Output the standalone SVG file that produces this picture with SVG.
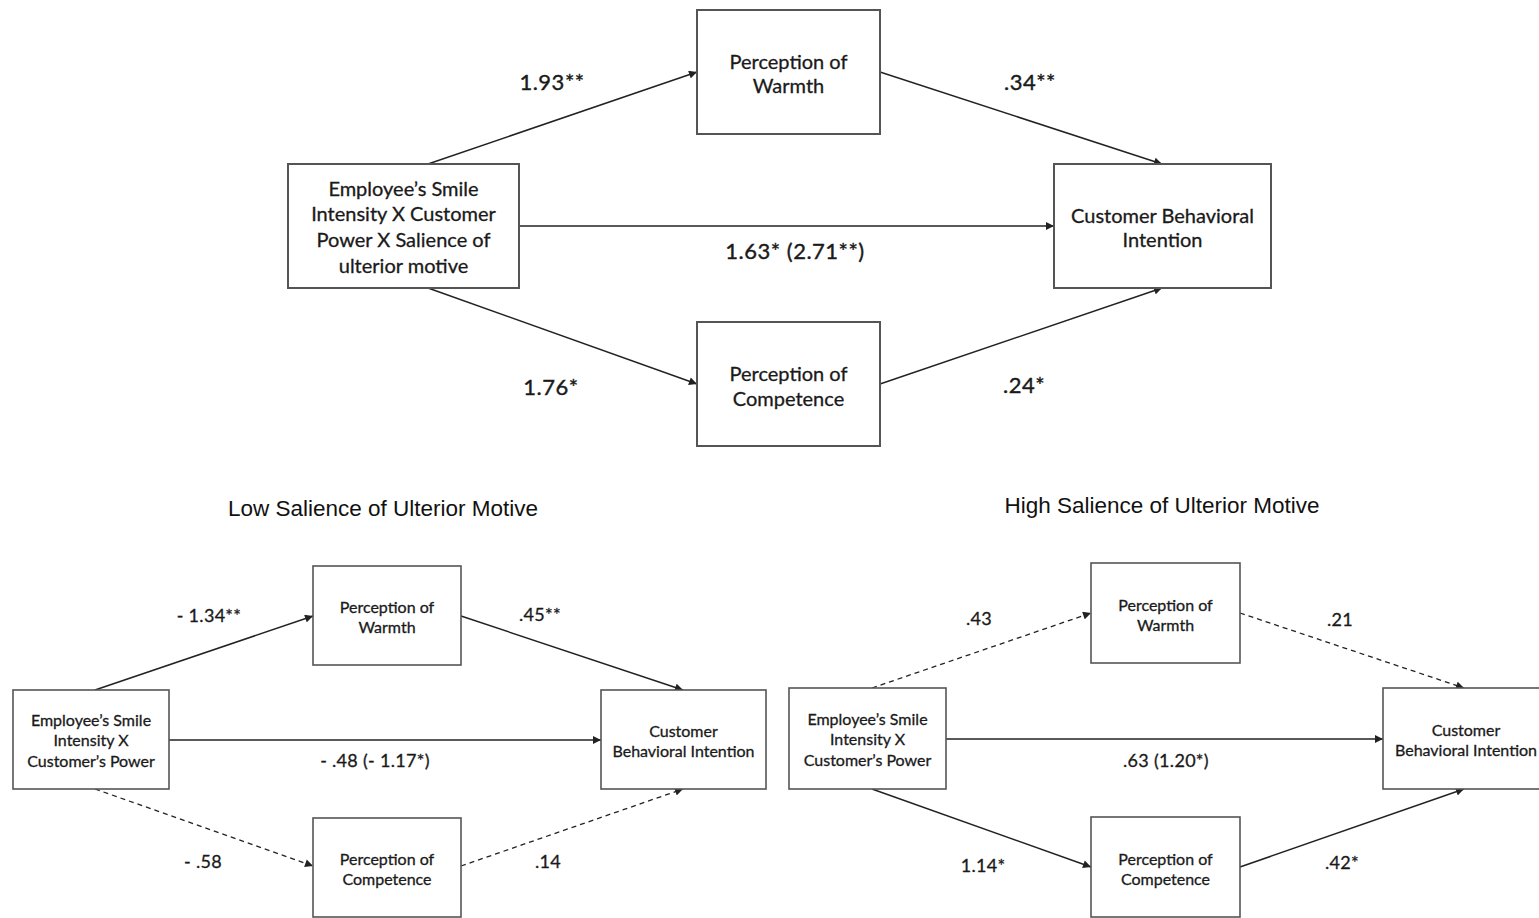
<svg xmlns="http://www.w3.org/2000/svg" width="1539" height="918" viewBox="0 0 1539 918">
<defs>
<marker id="ah" viewBox="0 0 10 10" refX="10" refY="5" markerWidth="9" markerHeight="8" markerUnits="userSpaceOnUse" orient="auto">
<path d="M0,0 L10,5 L0,10 z" fill="#222"/>
</marker>
<style>
.box{fill:#fff;stroke:#555;stroke-width:2}
.sbox{fill:#fff;stroke:#555;stroke-width:1.6}
.t{font-family:Lato,"Open Sans",sans-serif;fill:#1a1a1a;stroke:#1a1a1a;stroke-width:0.3;text-anchor:middle}
.big{font-size:20px}
.sm{font-size:16px}
.lbl{font-family:Lato,"Open Sans",sans-serif;fill:#1a1a1a;stroke:#1a1a1a;stroke-width:0.4;text-anchor:middle;font-size:22px;letter-spacing:0.5px}
.lbls{font-family:Lato,"Open Sans",sans-serif;fill:#1a1a1a;stroke:#1a1a1a;stroke-width:0.3;text-anchor:middle;font-size:18px;letter-spacing:0.3px}
.title{font-family:"Liberation Sans",Arial,sans-serif;fill:#111;text-anchor:middle;font-size:22.5px}
.c{fill:none;stroke:#222;stroke-width:1.5;marker-end:url(#ah)}
.d{fill:none;stroke:#222;stroke-width:1.3;stroke-dasharray:5,4;marker-end:url(#ah)}
</style>
</defs>
<rect width="1539" height="918" fill="#fff"/>

<g id="connectors">
<line class="c" x1="428" y1="164" x2="697" y2="72"/>
<line class="c" x1="880" y1="72" x2="1162" y2="164"/>
<line class="c" x1="519" y1="226" x2="1054" y2="226"/>
<line class="c" x1="428" y1="288" x2="697" y2="384"/>
<line class="c" x1="880" y1="384" x2="1162" y2="288"/>

<line class="c" x1="95" y1="690" x2="313" y2="616"/>
<line class="c" x1="461" y1="616" x2="683" y2="690"/>
<line class="c" x1="169" y1="740" x2="601" y2="740"/>
<line class="d" x1="95" y1="789" x2="313" y2="866"/>
<line class="d" x1="461" y1="866" x2="683" y2="789"/>

<line class="d" x1="872" y1="688" x2="1091" y2="613"/>
<line class="d" x1="1240" y1="613" x2="1464" y2="688"/>
<line class="c" x1="946" y1="739" x2="1383" y2="739"/>
<line class="c" x1="872" y1="789" x2="1091" y2="867"/>
<line class="c" x1="1240" y1="867" x2="1464" y2="789"/>
</g>

<g id="edge-labels">
<text class="lbl" x="552" y="90">1.93**</text>
<text class="lbl" x="1030" y="90">.34**</text>
<text class="lbl" x="795" y="259">1.63* (2.71**)</text>
<text class="lbl" x="551" y="395">1.76*</text>
<text class="lbl" x="1024" y="393">.24*</text>

<text class="lbls" x="209" y="622">- 1.34**</text>
<text class="lbls" x="540" y="621">.45**</text>
<text class="lbls" x="375" y="767">- .48 (- 1.17*)</text>
<text class="lbls" x="203" y="868">- .58</text>
<text class="lbls" x="548" y="868">.14</text>

<text class="lbls" x="979" y="625">.43</text>
<text class="lbls" x="1340" y="626">.21</text>
<text class="lbls" x="1166" y="767">.63 (1.20*)</text>
<text class="lbls" x="983" y="872">1.14*</text>
<text class="lbls" x="1342" y="869">.42*</text>
</g>

<text class="title" x="383" y="516">Low Salience of Ulterior Motive</text>
<text class="title" x="1162" y="513">High Salience of Ulterior Motive</text>

<g id="top-warmth">
<rect class="box" x="697" y="10" width="183" height="124"/>
<text class="t big" x="788.5" y="69">Perception of</text>
<text class="t big" x="788.5" y="93">Warmth</text>
</g>
<g id="top-source">
<rect class="box" x="288" y="164" width="231" height="124"/>
<text class="t big" x="403.5" y="196">Employee’s Smile</text>
<text class="t big" x="403.5" y="221">Intensity X Customer</text>
<text class="t big" x="403.5" y="247">Power X Salience of</text>
<text class="t big" x="403.5" y="273">ulterior motive</text>
</g>
<g id="top-cbi">
<rect class="box" x="1054" y="164" width="217" height="124"/>
<text class="t big" x="1162.5" y="223">Customer Behavioral</text>
<text class="t big" x="1162.5" y="247">Intention</text>
</g>
<g id="top-competence">
<rect class="box" x="697" y="322" width="183" height="124"/>
<text class="t big" x="788.5" y="381">Perception of</text>
<text class="t big" x="788.5" y="406">Competence</text>
</g>

<g id="low-source">
<rect class="sbox" x="13" y="690" width="156" height="99"/>
<text class="t sm" x="91" y="726">Employee’s Smile</text>
<text class="t sm" x="91" y="746">Intensity X</text>
<text class="t sm" x="91" y="767">Customer’s Power</text>
</g>
<g id="low-warmth">
<rect class="sbox" x="313" y="566" width="148" height="99"/>
<text class="t sm" x="387" y="613">Perception of</text>
<text class="t sm" x="387" y="633">Warmth</text>
</g>
<g id="low-cbi">
<rect class="sbox" x="601" y="690" width="165" height="99"/>
<text class="t sm" x="683.5" y="737">Customer</text>
<text class="t sm" x="683.5" y="757">Behavioral Intention</text>
</g>
<g id="low-competence">
<rect class="sbox" x="313" y="818" width="148" height="99"/>
<text class="t sm" x="387" y="865">Perception of</text>
<text class="t sm" x="387" y="885">Competence</text>
</g>

<g id="high-source">
<rect class="sbox" x="789" y="688" width="157" height="101"/>
<text class="t sm" x="867.5" y="725">Employee’s Smile</text>
<text class="t sm" x="867.5" y="745">Intensity X</text>
<text class="t sm" x="867.5" y="766">Customer’s Power</text>
</g>
<g id="high-warmth">
<rect class="sbox" x="1091" y="563" width="149" height="100"/>
<text class="t sm" x="1165.5" y="611">Perception of</text>
<text class="t sm" x="1165.5" y="631">Warmth</text>
</g>
<g id="high-cbi">
<rect class="sbox" x="1383" y="688" width="160" height="101"/>
<text class="t sm" x="1466" y="736">Customer</text>
<text class="t sm" x="1466" y="756">Behavioral Intention</text>
</g>
<g id="high-competence">
<rect class="sbox" x="1091" y="817" width="149" height="100"/>
<text class="t sm" x="1165.5" y="865">Perception of</text>
<text class="t sm" x="1165.5" y="885">Competence</text>
</g>
</svg>
